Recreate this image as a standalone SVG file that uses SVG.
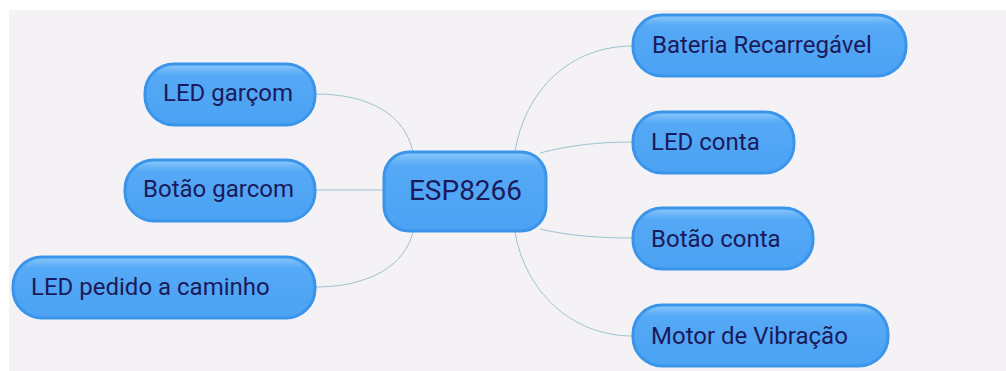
<svg xmlns="http://www.w3.org/2000/svg" width="1006" height="371" viewBox="0 0 1006 371">
<defs>
<linearGradient id="g" x1="0" y1="0" x2="0" y2="1">
<stop offset="0" stop-color="#8cc8fb"/>
<stop offset="0.18" stop-color="#55a9f6"/>
<stop offset="1" stop-color="#4ba2f3"/>
</linearGradient>
<style>
.n{fill:url(#g);stroke:#3a95ea;stroke-width:3}
.t{font-family:Roboto,"Liberation Sans",sans-serif;font-size:24px;fill:#1b1a5a}
.c{fill:none;stroke:#9cc3cc;stroke-width:1}
</style>
</defs>
<rect x="0" y="0" width="1006" height="371" fill="#ffffff"/>
<rect x="9" y="10" width="997" height="361" fill="#f5f2f5"/>
<g id="connectors">
<path class="c" d="M315,94 C370,94 405,115 413,152"/>
<path class="c" d="M315,190 L384,190"/>
<path class="c" d="M315,287 C370,287 405,265 413,232"/>
<path class="c" d="M515,152 C525,90 570,46 633,46"/>
<path class="c" d="M540,153 C570,145 600,142 633,142"/>
<path class="c" d="M540,229 C570,236 600,238 633,238"/>
<path class="c" d="M515,232 C525,290 570,336 633,336"/>
</g>
<g id="esp8266"><rect class="n" x="384" y="152" width="162" height="79" rx="25"/><text class="t" x="465.5" y="200" text-anchor="middle" style="font-size:28px">ESP8266</text></g>
<g id="led-garcom"><rect class="n" x="145" y="64" width="170" height="61" rx="29"/><text class="t" x="163" y="101">LED garçom</text></g>
<g id="botao-garcom"><rect class="n" x="125" y="160" width="190" height="61" rx="29"/><text class="t" x="143" y="197">Botão garcom</text></g>
<g id="led-pedido"><rect class="n" x="13" y="257" width="302" height="61" rx="29"/><text class="t" x="31" y="295">LED pedido a caminho</text></g>
<g id="bateria"><rect class="n" x="633" y="15" width="273" height="61" rx="29"/><text class="t" x="652" y="53">Bateria Recarregável</text></g>
<g id="led-conta"><rect class="n" x="633" y="112" width="161" height="61" rx="29"/><text class="t" x="651" y="150">LED conta</text></g>
<g id="botao-conta"><rect class="n" x="633" y="208" width="180" height="61" rx="29"/><text class="t" x="651" y="247">Botão conta</text></g>
<g id="motor"><rect class="n" x="633" y="305" width="255" height="61" rx="29"/><text class="t" x="651" y="344">Motor de Vibração</text></g>
</svg>
